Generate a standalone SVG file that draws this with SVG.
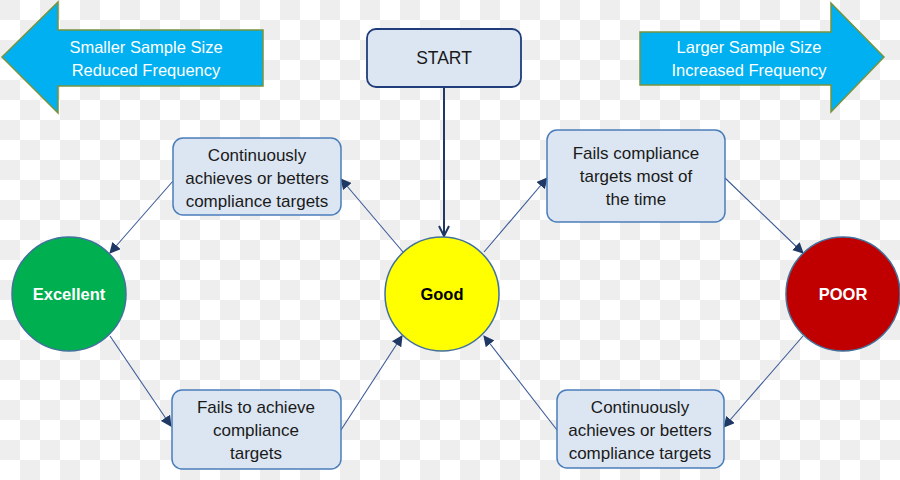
<svg xmlns="http://www.w3.org/2000/svg" width="900" height="480" viewBox="0 0 900 480">
<defs>
<pattern id="checker" x="0" y="0" width="40" height="40" patternUnits="userSpaceOnUse">
<rect width="40" height="40" fill="#ffffff"/>
<rect x="0" y="0" width="20" height="20" fill="#eeeeee"/>
<rect x="20" y="20" width="20" height="20" fill="#eeeeee"/>
</pattern>
<marker id="tri" viewBox="0 0 10 10" refX="9" refY="5" markerWidth="11" markerHeight="11" markerUnits="userSpaceOnUse" orient="auto">
<path d="M0,0 L10,5 L0,10 z" fill="#1f3864"/>
</marker>
<marker id="vee" viewBox="0 0 12 12" refX="11" refY="6" markerWidth="12" markerHeight="12" markerUnits="userSpaceOnUse" orient="auto">
<path d="M1,1 L11,6 L1,11" fill="none" stroke="#1f3864" stroke-width="2"/>
</marker>
</defs>
<style>
.box{fill:#dce6f2;stroke:#4a7ebb;stroke-width:1.5}
.start{fill:#dce6f2;stroke:#1f3d7a;stroke-width:1.8}
.bigarrow{fill:#00b0f0;stroke:#77933c;stroke-width:1.5}
.t{font-family:"Liberation Sans",Arial,sans-serif;font-size:17px;fill:#1a1a1a;text-anchor:middle}
.at{font-family:"Liberation Sans",Arial,sans-serif;font-size:16.5px;fill:#ffffff;text-anchor:middle}
.ct{font-family:"Liberation Sans",Arial,sans-serif;font-size:16.5px;font-weight:bold;text-anchor:middle}
.conn{stroke:#3a5a96;stroke-width:1.1;fill:none;marker-end:url(#tri)}
.circ{stroke:#41719c;stroke-width:1.5}
</style>
<rect width="900" height="480" fill="url(#checker)"/>

<g id="arrow-left">
<polygon class="bigarrow" points="2,57 58,2 58,30 263,30 263,86 58,86 58,113"/>
<text class="at" x="146" y="53">Smaller Sample Size</text>
<text class="at" x="146" y="76">Reduced Frequency</text>
</g>
<g id="arrow-right">
<polygon class="bigarrow" points="884,57 831,3 831,32 640,32 640,85 831,85 831,112"/>
<text class="at" x="749" y="53">Larger Sample Size</text>
<text class="at" x="749" y="76">Increased Frequency</text>
</g>

<g id="connectors">
<line x1="444" y1="88" x2="444" y2="236" stroke="#1f3864" stroke-width="2" marker-end="url(#vee)"/>
<line class="conn" x1="403" y1="252" x2="341" y2="179"/>
<line class="conn" x1="173" y1="181" x2="110" y2="253"/>
<line class="conn" x1="110" y1="336" x2="171" y2="426"/>
<line class="conn" x1="341" y1="430" x2="402" y2="336"/>
<line class="conn" x1="484" y1="252" x2="547" y2="178"/>
<line class="conn" x1="725" y1="178" x2="803" y2="253"/>
<line class="conn" x1="803" y1="336" x2="724" y2="427"/>
<line class="conn" x1="557" y1="430" x2="484" y2="336"/>
</g>

<g id="start">
<rect class="start" x="367" y="29" width="154" height="58" rx="9"/>
<text class="t" x="444" y="64" style="font-size:17.5px">START</text>
</g>

<g id="box-continuously-left">
<rect class="box" x="173" y="138" width="168" height="77" rx="10"/>
<text class="t" x="257" y="161">Continuously</text>
<text class="t" x="257" y="184">achieves or betters</text>
<text class="t" x="257" y="207">compliance targets</text>
</g>

<g id="box-fails-most">
<rect class="box" x="547" y="130" width="178" height="92" rx="10"/>
<text class="t" x="636" y="159">Fails compliance</text>
<text class="t" x="636" y="182">targets most of</text>
<text class="t" x="636" y="205">the time</text>
</g>

<g id="box-fails-achieve">
<rect class="box" x="172" y="390" width="169" height="79" rx="10"/>
<text class="t" x="256" y="413">Fails to achieve</text>
<text class="t" x="256" y="436">compliance</text>
<text class="t" x="256" y="459">targets</text>
</g>

<g id="box-continuously-right">
<rect class="box" x="557" y="390" width="167" height="78" rx="10"/>
<text class="t" x="640" y="413">Continuously</text>
<text class="t" x="640" y="436">achieves or betters</text>
<text class="t" x="640" y="459">compliance targets</text>
</g>

<g id="excellent">
<circle class="circ" cx="69" cy="294" r="57" fill="#00b050"/>
<text class="ct" x="69" y="300" fill="#ffffff">Excellent</text>
</g>
<g id="good">
<circle class="circ" cx="442" cy="294" r="57" fill="#ffff00"/>
<text class="ct" x="442" y="300" fill="#000000">Good</text>
</g>
<g id="poor">
<circle class="circ" cx="843" cy="294" r="57" fill="#c00000"/>
<text class="ct" x="843" y="300" fill="#ffffff">POOR</text>
</g>
</svg>
